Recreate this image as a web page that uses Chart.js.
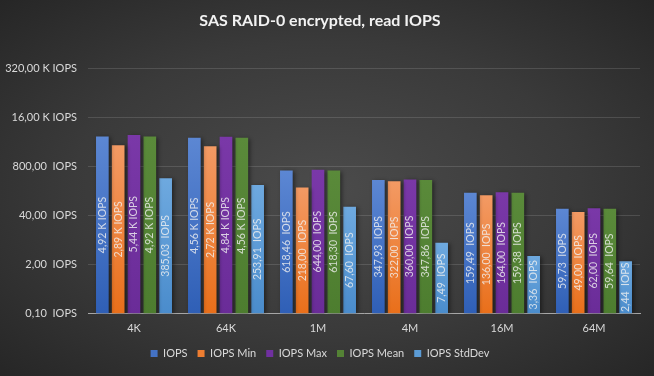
<!DOCTYPE html>
<html>
<head>
<meta charset="utf-8">
<script src="https://cdn.jsdelivr.net/npm/chart.js@4"></script>
<style>
  html, body { margin: 0; padding: 0; }
  body {
    width: 654px; height: 376px; overflow: hidden;
    background: radial-gradient(ellipse at 50% 50%, #4b4b4b 0%, #3a3a3a 55%, #262626 100%);
  }
  canvas { display: block; }
</style>
</head>
<body>
<canvas id="iopsChart" width="654" height="376"></canvas>
<script>
const categories = ['4K', '64K', '1M', '4M', '16M', '64M'];
const iops       = [4920, 4560, 618.46, 347.93, 159.49, 59.73];
const iopsMin    = [2890, 2720, 218.00, 322.00, 136.00, 49.00];
const iopsMax    = [5440, 4840, 644.00, 360.00, 164.00, 62.00];
const iopsMean   = [4920, 4560, 618.30, 347.86, 159.38, 59.64];
const iopsStdDev = [385.03, 253.91, 67.60, 7.49, 3.36, 2.44];
const yTicks     = [0.1, 2, 40, 800, 16000, 320000];

function fmt(v) {
  if (v >= 1000) return (v / 1000).toFixed(2).replace('.', ',') + ' K IOPS';
  return v.toFixed(2).replace('.', ',') + '  IOPS';
}

// vertical gradient per bar, lighter at the top
function barFill(top, bottom) {
  return function (c) {
    const chart = c.chart;
    const y = chart.scales && chart.scales.y;
    if (!y || c.raw == null) return bottom;
    const y0 = y.getPixelForValue(c.raw);
    const y1 = y.bottom;
    if (!isFinite(y0) || !isFinite(y1) || y1 <= y0) return bottom;
    const g = chart.ctx.createLinearGradient(0, y0, 0, y1);
    g.addColorStop(0, top);
    g.addColorStop(1, bottom);
    return g;
  };
}

const barShadow = {
  id: 'barShadow',
  beforeDatasetsDraw(chart) {
    const ctx = chart.ctx;
    ctx.save();
    ctx.shadowColor = 'rgba(0,0,0,0.45)';
    ctx.shadowBlur = 4;
    ctx.shadowOffsetX = 2;
    ctx.shadowOffsetY = 1;
  },
  afterDatasetsDraw(chart) {
    chart.ctx.restore();
  }
};

// soft shadow behind the title text
const titleShadow = {
  id: 'titleShadow',
  beforeDraw(chart) {
    const ctx = chart.ctx;
    ctx.save();
    ctx.shadowColor = 'rgba(0,0,0,0.6)';
    ctx.shadowBlur = 3;
    ctx.shadowOffsetX = 1;
    ctx.shadowOffsetY = 2;
  },
  beforeDatasetsDraw() {},
  afterDraw() {}
};

const barLabels = {
  id: 'barLabels',
  afterDatasetsDraw(chart) {
    const ctx = chart.ctx;
    ctx.save();
    ctx.font = '10.5px Lato';
    ctx.fillStyle = 'rgba(240,240,240,0.82)';
    ctx.textAlign = 'center';
    ctx.textBaseline = 'middle';
    chart.data.datasets.forEach((ds, i) => {
      chart.getDatasetMeta(i).data.forEach((bar, j) => {
        const cy = (bar.y + bar.base) / 2;
        ctx.save();
        ctx.translate(bar.x, cy);
        ctx.rotate(-Math.PI / 2);
        ctx.fillText(fmt(ds.data[j]), 0, 0);
        ctx.restore();
      });
    });
    ctx.restore();
  }
};

const legendColors = ['#4472c4', '#ed7d31', '#7030a0', '#548235', '#5b9bd5'];

new Chart(document.getElementById('iopsChart'), {
  type: 'bar',
  data: {
    labels: categories,
    datasets: [
      { label: 'IOPS', data: iops, backgroundColor: barFill('#5c87d3', '#2f5fb6') },
      { label: 'IOPS Min', data: iopsMin, backgroundColor: barFill('#f39a64', '#e96f1a') },
      { label: 'IOPS Max', data: iopsMax, backgroundColor: barFill('#7a38a8', '#6a2c98') },
      { label: 'IOPS Mean', data: iopsMean, backgroundColor: barFill('#5a8a3a', '#4d7d2f') },
      { label: 'IOPS StdDev', data: iopsStdDev, backgroundColor: barFill('#6ea9df', '#4a8ccc') }
    ]
  },
  options: {
    responsive: false,
    animation: false,
    categoryPercentage: 0.86,
    barPercentage: 0.8,
    layout: { padding: { left: 0, right: 14, top: 0, bottom: 7 } },
    plugins: {
      title: {
        display: true,
        text: 'SAS RAID-0 encrypted, read IOPS',
        color: '#f2f2f2',
        font: { family: 'Lato', size: 16, weight: 'bold' },
        padding: { top: 11, bottom: 38 }
      },
      legend: {
        position: 'bottom',
        labels: {
          color: '#d9d9d9',
          font: { family: 'Lato', size: 11 },
          boxWidth: 7,
          boxHeight: 7,
          padding: 10,
          generateLabels(chart) {
            return chart.data.datasets.map((ds, i) => ({
              text: ds.label,
              fillStyle: legendColors[i],
              strokeStyle: legendColors[i],
              lineWidth: 0,
              fontColor: '#d9d9d9',
              datasetIndex: i,
              hidden: false
            }));
          }
        }
      },
      tooltip: { enabled: false }
    },
    scales: {
      x: {
        grid: { display: false, drawTicks: false },
        border: { color: '#a6a6a6', width: 1 },
        ticks: { color: '#d9d9d9', font: { family: 'Lato', size: 11 }, padding: 8 },
        afterFit(scale) { scale.height = 24.5; }
      },
      y: {
        type: 'logarithmic',
        min: 0.1,
        max: 320000,
        grid: { color: 'rgba(255,255,255,0.13)', drawTicks: false },
        border: { display: false },
        ticks: {
          color: '#d9d9d9',
          font: { family: 'Lato', size: 11 },
          padding: 11,
          callback: v => fmt(v)
        },
        afterBuildTicks(scale) { scale.ticks = yTicks.map(v => ({ value: v })); },
        afterFit(scale) { scale.width = 88; }
      }
    }
  },
  plugins: [barShadow, barLabels]
});
</script>
</body>
</html>
